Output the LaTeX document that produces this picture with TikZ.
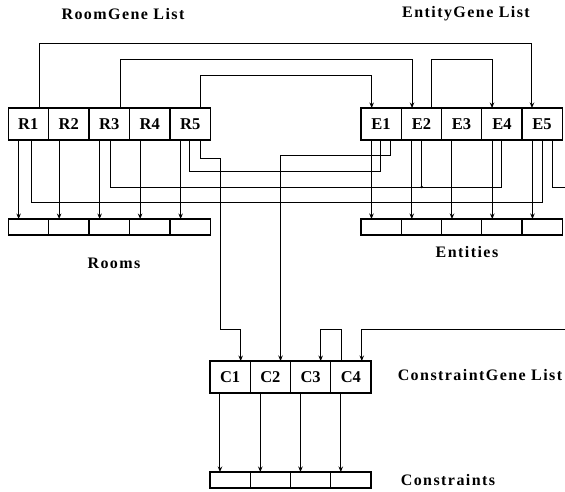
\documentclass[tikz,border=0pt]{standalone}
\usepackage{fontspec}
\setmainfont{Liberation Serif}
\newfontfamily\lblfam[LetterSpace=9]{Liberation Serif}
\usetikzlibrary{arrows.meta}
\newcommand{\boxfont}{\fontsize{16.5}{19}\selectfont\bfseries}
\newcommand{\lblfont}{\lblfam\fontsize{16}{18}\selectfont\bfseries}
\begin{document}
\begin{tikzpicture}[x=1pt,y=-1pt,
  gbox/.style={draw, line width=1.1pt, minimum width=40.25pt, minimum height=32pt, inner sep=0pt, outer sep=0pt, font=\boxfont},
  cell/.style={draw, line width=1.1pt, minimum width=40.25pt, minimum height=16pt, inner sep=0pt, outer sep=0pt},
  conn/.style={line width=1pt},
  arr/.style={conn, -{Stealth[length=5.5pt,width=4.5pt]}},
  lbl/.style={font=\lblfont, inner sep=0pt}]
\useasboundingbox (0,0) rectangle (565,491);
% gene boxes
\foreach \i/\x in {1/28.25,2/68.75,3/109.25,4/149.75,5/190.25} {
  \node[gbox] (R\i) at (\x,124) {R\i};
  \node[cell] (rs\i) at (\x,227) {};
}
\foreach \i/\x in {1/381.1,2/421.4,3/461.6,4/501.9,5/542.1} {
  \node[gbox] (E\i) at (\x,124) {E\i};
  \node[cell] (es\i) at (\x,227) {};
}
\foreach \i/\x in {1/230.1,2/270.4,3/310.6,4/350.9} {
  \node[gbox] (C\i) at (\x,377) {C\i};
  \node[cell] (cs\i) at (\x,480) {};
}
% labels
\node[lbl] (rgl) at (123,14) {RoomGene List};
\node[lbl] (egl) at (466,14) {EntityGene List};
\node[lbl] (rl) at (114,263) {Rooms};
\node[lbl] (el) at (467,252) {Entities};
\node[lbl] (cgl) at (480,375) {ConstraintGene List};
\node[lbl] (cl) at (448,480) {Constraints};
% free ends
\coordinate (eout) at (570,187);
\coordinate (cin) at (570,329);
% gene to storage
\foreach \i in {1,...,5} {
  \draw[arr] ([xshift=10.5pt]R\i.south west) -- ([xshift=10.5pt]rs\i.north west);
  \draw[arr] ([xshift=10.5pt]E\i.south west) -- ([xshift=10.5pt]es\i.north west);
}
\foreach \i in {1,...,4} {
  \draw[arr] ([xshift=10pt]C\i.south west) -- ([xshift=10pt]cs\i.north west);
}
% top links
\draw[arr] ([xshift=31pt]R1.north west) -- ++(0,-65) -| ([xshift=10pt]E5.north west);
\draw[arr] ([xshift=31pt]R3.north west) -- ++(0,-49) -| ([xshift=10.75pt]E2.north west);
\draw[arr] ([xshift=30.7pt]R5.north west) -- ++(0,-33) -| ([xshift=10.7pt]E1.north west);
\draw[arr] ([xshift=30.5pt]E2.north west) -- ++(0,-49) -| ([xshift=10.25pt]E4.north west);
% bottom links
\draw[conn] ([xshift=23pt]R1.south west) -- ++(0,62) -| ([xshift=21pt]E5.south west);
\draw[conn] ([xshift=21pt]R3.south west) -- ++(0,47) -| ([xshift=20pt]E4.south west);
\draw[conn] ([xshift=20.5pt]E2.south west) -- ++(0,47) coordinate (tee);
\fill (tee) circle (1.4pt);
\draw[conn] ([xshift=19pt]R5.south west) -- ++(0,31) -| ([xshift=20pt]E1.south west);
\draw[arr] ([xshift=30.7pt]R5.south west) -- ++(0,18) -- ++(19.3,0) -- ++(0,171) -| ([xshift=30.7pt]C1.north west);
\draw[arr] ([xshift=30pt]E1.south west) -- ++(0,15) -| ([xshift=30.25pt]C2.north west);
\draw[conn] ([xshift=31pt]E5.south west) |- (eout);
% constraint links
\draw[arr] (cin) -| ([xshift=31pt]C4.north west);
\draw[arr] ([xshift=10.25pt]C4.north west) -- ++(0,-32) -| ([xshift=30.2pt]C3.north west);
\end{tikzpicture}
\end{document}
